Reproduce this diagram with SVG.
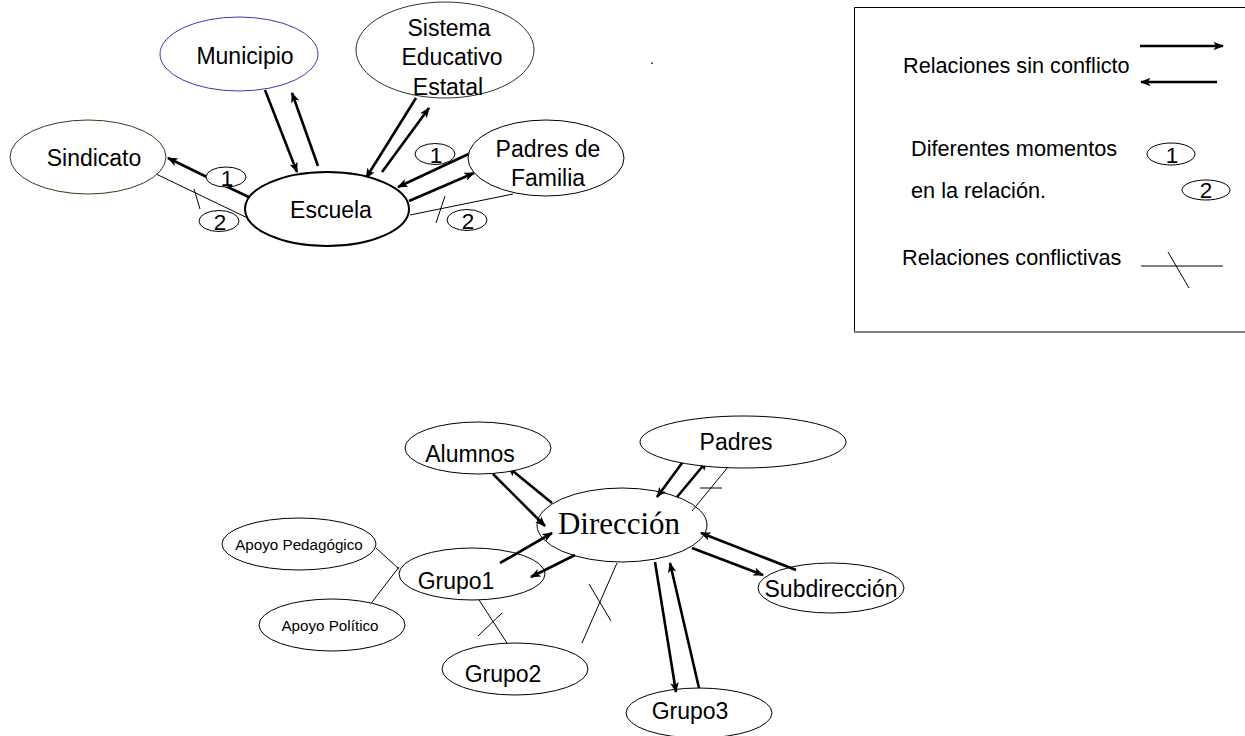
<svg xmlns="http://www.w3.org/2000/svg" width="1245" height="736" viewBox="0 0 1245 736">
<style>
text{font-family:"Liberation Sans",Arial,sans-serif;fill:#000}
.lbl{font-size:23px;text-anchor:middle}
.leg{font-size:21.7px}
.num{font-size:22.5px;text-anchor:middle}
.small{font-size:15.2px;text-anchor:middle}
.ser{font-family:"Liberation Serif","Times New Roman",serif;font-size:31px;text-anchor:middle}
.node{fill:#fff;stroke:#000;stroke-width:1}
.arr{stroke:#000;stroke-width:2.6;fill:none;marker-end:url(#ah)}
.thin{stroke:#000;stroke-width:1;fill:none}
.tag{fill:#fff;stroke:#000;stroke-width:1}
</style>
<defs>
<marker id="ah" viewBox="0 0 10 8" refX="9" refY="4" markerWidth="11" markerHeight="8.5" orient="auto" markerUnits="userSpaceOnUse">
<path d="M0,0 L10,4 L0,8 L2.5,4 z" fill="#000"/>
</marker>
</defs>
<rect width="1245" height="736" fill="#fff"/>

<g id="connectors">
<line class="arr" x1="265" y1="90" x2="297" y2="172"/>
<line class="arr" x1="318" y1="166" x2="292" y2="93"/>
<line class="arr" x1="416" y1="98" x2="366" y2="178"/>
<line class="arr" x1="382" y1="172" x2="429" y2="108"/>
<line class="arr" x1="475" y1="151" x2="398" y2="187"/>
<line class="arr" x1="409" y1="201" x2="474" y2="173"/>
<line class="thin" x1="410" y1="215" x2="513" y2="194"/>
<line class="thin" x1="436" y1="223" x2="445" y2="196"/>
<line class="arr" x1="213" y1="180" x2="168" y2="158"/>
<line class="arr" x1="213" y1="180" x2="259" y2="202"/>
<line class="thin" x1="154" y1="173" x2="258" y2="223"/>
<line class="thin" x1="194" y1="189" x2="200" y2="209"/>
<line class="arr" x1="493" y1="474" x2="545" y2="526"/>
<line class="arr" x1="552" y1="503" x2="508" y2="467"/>
<line class="arr" x1="500" y1="563" x2="552" y2="533"/>
<line class="arr" x1="575" y1="555" x2="531" y2="577"/>
<line class="thin" x1="376" y1="548" x2="399" y2="569"/>
<line class="thin" x1="369" y1="606" x2="399" y2="567"/>
<line class="thin" x1="479" y1="600" x2="507" y2="643"/>
<line class="thin" x1="478" y1="636" x2="502" y2="613"/>
<line class="thin" x1="617" y1="563" x2="582" y2="643"/>
<line class="thin" x1="589" y1="584" x2="611" y2="621"/>
<line class="arr" x1="685" y1="459" x2="657" y2="497"/>
<line class="arr" x1="677" y1="497" x2="707" y2="461"/>
<line class="thin" x1="728" y1="467" x2="692" y2="511"/>
<line class="thin" x1="700" y1="488" x2="722" y2="488"/>
<line class="arr" x1="692" y1="548" x2="763" y2="575"/>
<line class="arr" x1="796" y1="570" x2="701" y2="533"/>
<line class="arr" x1="655" y1="562" x2="676" y2="692"/>
<line class="arr" x1="699" y1="688" x2="670" y2="563"/>
</g>

<g id="municipio">
<ellipse cx="239" cy="54" rx="79" ry="37" fill="#fff" stroke="#3a3aa8" stroke-width="1"/>
<text class="lbl" x="245" y="64">Municipio</text>
</g>
<g id="sindicato">
<ellipse cx="88" cy="157" rx="78" ry="37" fill="#fff" stroke="#4a3418" stroke-width="1"/>
<text class="lbl" x="94" y="166">Sindicato</text>
</g>
<g id="sistema">
<ellipse cx="445" cy="50" rx="89" ry="48" fill="#fff" stroke="#1f3d1f" stroke-width="1"/>
<text class="lbl" x="449" y="36">Sistema</text>
<text class="lbl" x="452" y="65">Educativo</text>
<text class="lbl" x="448" y="95">Estatal</text>
</g>
<g id="padres-familia">
<ellipse cx="546" cy="158" rx="78" ry="38" class="node"/>
<text class="lbl" x="548" y="157">Padres de</text>
<text class="lbl" x="548" y="186">Familia</text>
</g>
<g id="escuela">
<ellipse cx="327" cy="209" rx="82" ry="37" fill="#fff" stroke="#000" stroke-width="2"/>
<text class="lbl" x="331" y="218">Escuela</text>
</g>
<g id="tags-top">
<ellipse class="tag" cx="226" cy="177" rx="20" ry="10"/>
<text class="num" x="227" y="185.5">1</text>
<ellipse class="tag" cx="219" cy="221" rx="20" ry="10.5"/>
<text class="num" x="220" y="230">2</text>
<ellipse class="tag" cx="435" cy="154" rx="20" ry="10.5"/>
<text class="num" x="436" y="163">1</text>
<ellipse class="tag" cx="467" cy="220" rx="20" ry="10.5"/>
<text class="num" x="468" y="229">2</text>
</g>
<text x="650" y="64" style="font-size:14px">.</text>

<g id="legend">
<path d="M854.5,332 V7.5 H1250" fill="none" stroke="#000" stroke-width="1"/>
<line x1="854" y1="332" x2="1245" y2="332" stroke="#808080" stroke-width="2.2"/>
<line class="arr" x1="1140" y1="46" x2="1223" y2="46"/>
<line class="arr" x1="1217" y1="82" x2="1141" y2="82"/>
<text class="leg" x="903" y="73">Relaciones sin conflicto</text>
<text class="leg" x="911" y="156">Diferentes momentos</text>
<text class="leg" x="911" y="198">en la relación.</text>
<ellipse class="tag" cx="1171" cy="154" rx="24" ry="11"/>
<text class="num" x="1172" y="163">1</text>
<ellipse class="tag" cx="1206" cy="190" rx="24" ry="10"/>
<text class="num" x="1206" y="198">2</text>
<text class="leg" x="902" y="265">Relaciones conflictivas</text>
<line class="thin" x1="1141" y1="266" x2="1223" y2="266"/>
<line class="thin" x1="1168" y1="252" x2="1189" y2="288"/>
</g>

<g id="alumnos">
<ellipse cx="478" cy="448" rx="73" ry="26" class="node"/>
<text class="lbl" x="470" y="462">Alumnos</text>
</g>
<g id="padres">
<ellipse cx="743" cy="442" rx="103" ry="26" class="node"/>
<text class="lbl" x="736" y="450">Padres</text>
</g>
<g id="apoyo-pedagogico">
<ellipse cx="299" cy="544" rx="77" ry="26" class="node"/>
<text class="small" x="299" y="550">Apoyo Pedagógico</text>
</g>
<g id="apoyo-politico">
<ellipse cx="332" cy="625" rx="73" ry="26" class="node"/>
<text class="small" x="330" y="631">Apoyo Político</text>
</g>
<g id="grupo1">
<ellipse cx="472" cy="574" rx="73" ry="26" class="node" style="fill:none"/>
<text class="lbl" x="456" y="589">Grupo1</text>
</g>
<g id="grupo2">
<ellipse cx="515" cy="669" rx="73" ry="26" class="node"/>
<text class="lbl" x="503" y="682">Grupo2</text>
</g>
<g id="direccion">
<ellipse cx="622" cy="525" rx="85" ry="37" class="node" style="fill:none"/>
<text class="ser" x="619" y="534">Dirección</text>
</g>
<g id="subdireccion">
<ellipse cx="831" cy="588" rx="73" ry="25" class="node" style="fill:none"/>
<text class="lbl" x="831" y="597">Subdirección</text>
</g>
<g id="grupo3">
<ellipse cx="699" cy="713" rx="73" ry="25" class="node" style="fill:none"/>
<text class="lbl" x="690" y="719">Grupo3</text>
</g>
</svg>
